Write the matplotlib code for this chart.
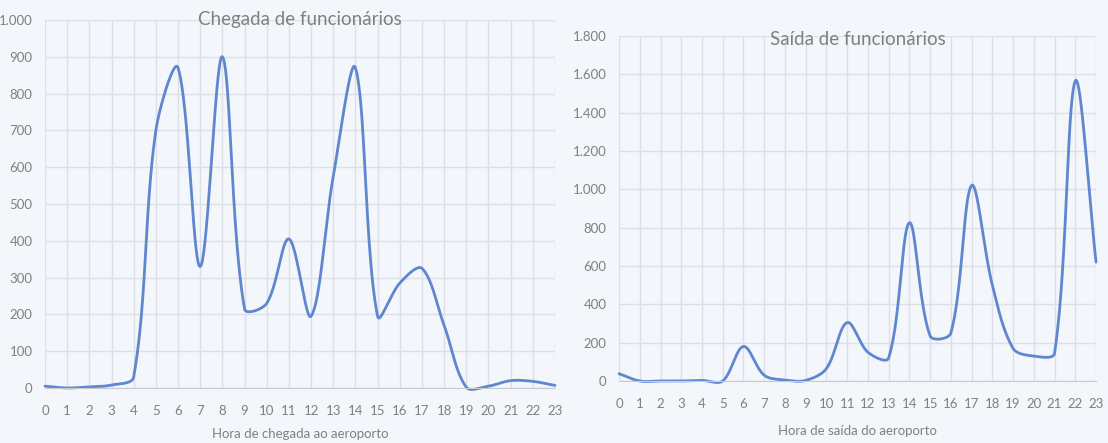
import numpy as np
import matplotlib
matplotlib.use("Agg")
from matplotlib import pyplot as plt
from matplotlib.ticker import FuncFormatter

horas = list(range(24))
chegada = [5, 0, 3, 8, 30, 700, 870, 330, 900, 215, 230, 405, 195, 575,
           870, 195, 285, 325, 170, 2, 5, 20, 18, 7]
saida = [38, 0, 0, 0, 3, 0, 180, 30, 5, 3, 65, 305, 150, 120,
         825, 235, 250, 1020, 500, 170, 130, 145, 1565, 620]

plt.rcParams['font.family'] = ['Lato', 'DejaVu Sans']

fundo = '#F3F6FB'
cinza = '#808080'
grade = '#DCDFE5'
azul = '#5F87CF'


def suave(ax, x, y, n=40):
    # curva suavizada tipo Excel: Bezier com tangentes pesadas pelo
    # comprimento dos segmentos, calculada em pixels
    P = ax.transData.transform(np.column_stack([x, y]))
    m = len(P)
    L = np.linalg.norm(np.diff(P, axis=0), axis=1)
    saida_c, entrada_c = [], []
    for i in range(m):
        if i == 0:
            d = P[1] - P[0]
            saida_c.append(P[0] + d / 3)
            entrada_c.append(P[0])
            continue
        if i == m - 1:
            d = P[-1] - P[-2]
            entrada_c.append(P[-1] - d / 3)
            saida_c.append(P[-1])
            continue
        d = P[i + 1] - P[i - 1]
        a, b = L[i - 1], L[i]
        entrada_c.append(P[i] - d * a / (a + b) / 3)
        saida_c.append(P[i] + d * b / (a + b) / 3)
    t = np.linspace(0, 1, n)[:, None]
    pts = []
    for i in range(m - 1):
        p0, c1, c2, p1 = P[i], saida_c[i], entrada_c[i + 1], P[i + 1]
        pts.append((1 - t) ** 3 * p0 + 3 * (1 - t) ** 2 * t * c1
                   + 3 * (1 - t) * t ** 2 * c2 + t ** 3 * p1)
    pts = np.vstack(pts)
    return ax.transData.inverted().transform(pts)


milhar = FuncFormatter(lambda v, p: f"{int(v):,}".replace(',', '.'))


def painel(ax, y, ymax, passo, titulo, xlabel, titulo_y, lpad):
    ax.set_facecolor(fundo)
    ax.set_xlim(0, 23)
    ax.set_ylim(0, ymax)
    ax.set_xticks(horas)
    ax.set_yticks(np.arange(0, ymax + 1, passo))
    ax.yaxis.set_major_formatter(milhar)
    curva = suave(ax, horas, y)
    ax.plot(curva[:, 0], curva[:, 1], color=azul, lw=2,
            solid_capstyle='round', clip_on=False)
    ax.grid(True, color=grade, lw=1)
    ax.set_axisbelow(True)
    for s in ['top', 'right', 'left']:
        ax.spines[s].set_visible(False)
    ax.spines['bottom'].set_color('#C8CBD0')
    ax.tick_params(length=0, colors=cinza, labelsize=9.5)
    ax.tick_params(axis='x', pad=12)
    ax.tick_params(axis='y', pad=9)
    ax.set_xlabel(xlabel, color=cinza, fontsize=9.5, labelpad=lpad)
    ax.text(0.5, titulo_y, titulo, transform=ax.transAxes, ha='center',
            va='center', color=cinza, fontsize=13.5)


fig = plt.figure(figsize=(11.08, 4.43), dpi=100)
fig.patch.set_facecolor(fundo)

ax1 = fig.add_axes([0.0406, 0.1242, 0.4603, 0.8307])
painel(ax1, chegada, 1000, 100, 'Chegada de funcionários',
       'Hora de chegada ao aeroporto', 1.0, 8)

ax2 = fig.add_axes([0.5587, 0.14, 0.4305, 0.7788])
painel(ax2, saida, 1800, 200, 'Saída de funcionários',
       'Hora de saída do aeroporto', 0.99, 11)

fig.savefig('out.png', dpi=100, facecolor=fundo)
